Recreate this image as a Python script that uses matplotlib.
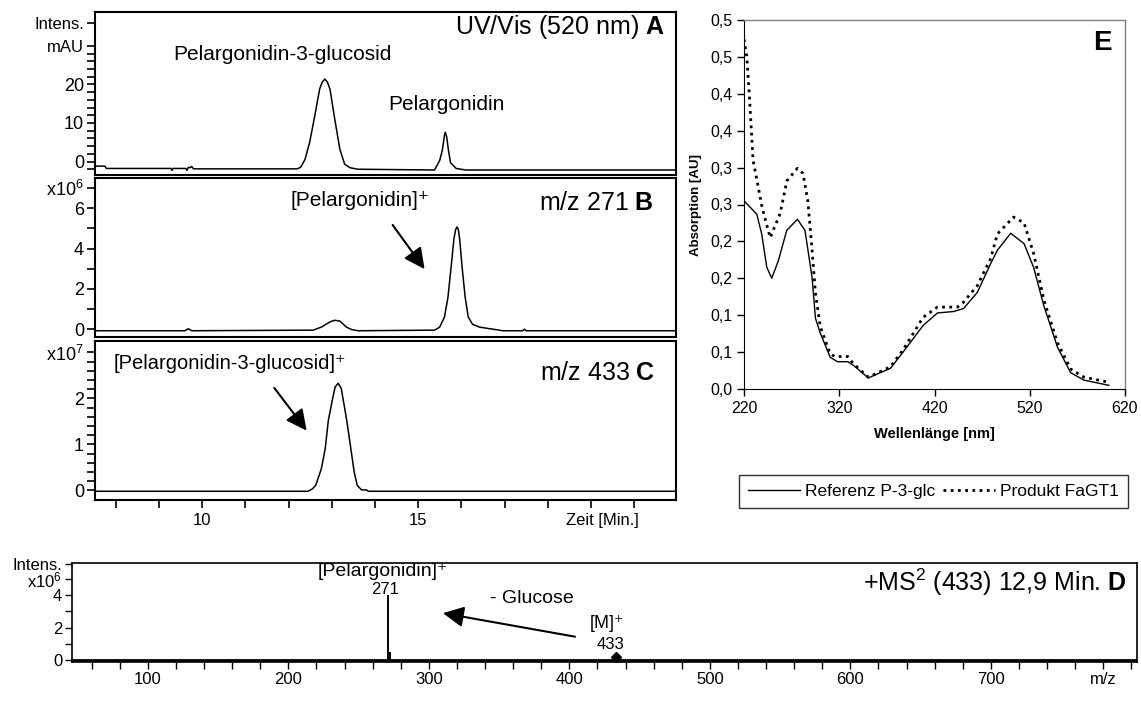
import numpy as np
import matplotlib
matplotlib.use('Agg')
import matplotlib.pyplot as plt
from matplotlib.lines import Line2D

plt.rcParams['font.family'] = ['Liberation Sans', 'DejaVu Sans']
plt.rcParams['mathtext.fontset'] = 'custom'
plt.rcParams['mathtext.rm'] = 'Liberation Sans'
plt.rcParams['mathtext.it'] = 'Liberation Sans:italic'
plt.rcParams['mathtext.bf'] = 'Liberation Sans:bold'
plt.rcParams['mathtext.default'] = 'regular'

# --- A: UV/Vis 520 nm (Zeit in min, mAU)
uv_time = [7.52, 7.75, 7.78, 9.28, 9.30, 9.33, 9.62, 9.65, 9.68, 9.72, 9.76, 9.80,
           12.20, 12.28, 12.38, 12.49, 12.61, 12.72, 12.78, 12.84, 12.90, 12.96, 13.07,
           13.19, 13.30, 13.42, 13.60, 15.38, 15.50, 15.56, 15.61, 15.63, 15.66, 15.70,
           15.75, 15.88, 16.10, 20.97]
uv_mau = [-1.2, -1.2, -1.8, -1.8, -2.3, -1.8, -1.8, -2.3, -1.5, -1.6, -1.3, -1.9,
          -1.9, -1.5, 0.5, 5.0, 12.0, 18.8, 20.6, 21.4, 20.6, 18.8, 11.0,
          3.1, -0.7, -1.6, -2.0, -2.2, 0.3, 2.9, 6.8, 7.6, 6.5, 3.1,
          -0.3, -1.8, -2.2, -2.2]

# --- B: EIC m/z 271 (x10^6)
ms271_time = [7.52, 9.60, 9.68, 9.76, 12.57, 12.76, 12.96, 13.07, 13.19, 13.34, 13.46,
              13.61, 15.38, 15.50, 15.61, 15.69, 15.77, 15.83, 15.87, 15.90, 15.93, 15.96,
              16.02, 16.09, 16.16, 16.26, 16.42, 16.57, 16.88, 16.95, 17.42, 17.46, 17.50,
              20.97]
ms271_int = [-0.08, -0.08, 0.02, -0.08, -0.05, 0.10, 0.36, 0.44, 0.40, 0.10, -0.02,
             -0.08, -0.05, 0.10, 0.60, 1.57, 3.20, 4.50, 4.95, 5.07, 4.95, 4.50,
             3.04, 1.57, 0.60, 0.24, 0.10, 0.05, -0.05, -0.08, -0.08, 0.0, -0.08,
             -0.08]

# --- C: EIC m/z 433 (x10^7)
ms433_time = [7.52, 12.45, 12.55, 12.63, 12.76, 12.85, 12.92, 13.01, 13.08, 13.15, 13.22,
              13.27, 13.35, 13.43, 13.52, 13.59, 13.69, 13.80, 13.85, 20.97]
ms433_int = [-0.02, -0.02, 0.03, 0.11, 0.47, 0.91, 1.51, 1.95, 2.25, 2.33, 2.22,
             1.95, 1.51, 0.99, 0.40, 0.11, 0.01, 0.01, -0.02, -0.02]

# --- D: MS2 of m/z 433 at 12,9 min (x10^6)
ms2_mz = [271, 272]
ms2_int = [4.0, 0.5]
precursor_mz = 433

# --- E: UV/Vis spectra
wl_ref = [220, 229.6, 233.4, 238.6, 243.9, 249.1, 256.1, 264.9, 276.1, 284, 291.5, 295,
          300, 310.5, 318, 329, 335, 350.5, 373.7, 387, 408, 423, 440, 450.5, 465, 479,
          486, 500, 514, 524, 535, 549, 563, 577, 603]
abs_ref = [0.255, 0.242, 0.237, 0.21, 0.165, 0.15, 0.174, 0.215, 0.23, 0.215, 0.151, 0.096,
           0.076, 0.043, 0.037, 0.037, 0.032, 0.015, 0.028, 0.05, 0.086, 0.103, 0.105,
           0.109, 0.131, 0.17, 0.188, 0.211, 0.197, 0.165, 0.112, 0.057, 0.022, 0.012,
           0.005]
wl_prod = [220, 223, 226, 229.5, 233, 239, 247.5, 258, 265, 276, 282, 287, 291.5, 295, 300,
           310, 315, 329, 335, 350.5, 373.7, 387, 408, 423, 444, 450, 465, 479, 486, 503,
           514, 524, 535, 549, 563, 577, 600]
abs_prod = [0.474, 0.45, 0.39, 0.31, 0.287, 0.246, 0.205, 0.238, 0.282, 0.299, 0.292,
            0.255, 0.188, 0.13, 0.085, 0.049, 0.044, 0.044, 0.034, 0.016, 0.03, 0.053,
            0.097, 0.111, 0.111, 0.117, 0.14, 0.177, 0.21, 0.233, 0.225, 0.184, 0.12,
            0.063, 0.027, 0.016, 0.01]

W, H = 1141, 717
TITLE_FS = 18
ARROW = dict(arrowstyle='-|>,head_length=0.9,head_width=0.45', color='black', lw=1.5,
             mutation_scale=14, shrinkA=0, shrinkB=0)


def px_axes(fig, x0, y0, x1, y1):
    # pixel box (left, top, right, bottom) -> axes
    return fig.add_axes([x0 / W, 1 - y1 / H, (x1 - x0) / W, (y1 - y0) / H])


def chrom_axes(ax, ylim, major, labels, minor, fs=13):
    ax.set_xlim(7.52, 20.97)
    ax.set_ylim(*ylim)
    for s in ax.spines.values():
        s.set_linewidth(1.5)
    ax.set_yticks(major)
    ax.set_yticklabels(labels, fontsize=fs)
    ax.set_yticks(minor, minor=True)
    ax.tick_params(axis='y', which='both', direction='out', length=6, width=1.2, pad=2)
    ax.tick_params(axis='x', which='both', bottom=False, labelbottom=False)


fig = plt.figure(figsize=(W / 100, H / 100), dpi=100)

# A
axA = px_axes(fig, 95, 12, 676, 175)
axA.plot(uv_time, uv_mau, color='black', lw=1.1)
chrom_axes(axA, (-3.5, 38.8), [0, 10, 20, 30, 36], ['0', '10', '20', 'mAU', 'Intens.'],
           [v for v in range(-2, 30, 2) if v % 10 != 0])
for lab in axA.get_yticklabels()[3:]:
    lab.set_fontsize(12)
axA.text(11.87, 27.7, 'Pelargonidin-3-glucosid', fontsize=15, ha='center', va='center')
axA.text(15.66, 14.9, 'Pelargonidin', fontsize=15, ha='center', va='center')
axA.text(0.981, 0.905, r'UV/Vis (520 nm) $\mathbf{A}$', transform=axA.transAxes,
         fontsize=TITLE_FS, ha='right', va='center')

# B
axB = px_axes(fig, 95, 178, 676, 337)
axB.plot(ms271_time, ms271_int, color='black', lw=1.1)
chrom_axes(axB, (-0.39, 7.5), [0, 2, 4, 6, 7], ['0', '2', '4', '6', r'x10$^6$'], [1, 3, 5])
axB.text(13.65, 6.4, '[Pelargonidin]⁺', fontsize=15, ha='center', va='center')
axB.annotate('', xy=(15.15, 2.98), xytext=(14.41, 5.17), arrowprops=ARROW)
axB.text(0.961, 0.84, r'm/z 271 $\mathbf{B}$', transform=axB.transAxes,
         fontsize=TITLE_FS, ha='right', va='center')

# C
axC = px_axes(fig, 95, 341, 676, 500)
axC.plot(ms433_time, ms433_int, color='black', lw=1.1)
chrom_axes(axC, (-0.21, 3.25), [0, 1, 2, 3], ['0', '1', '2', r'x10$^7$'],
           [v / 5 for v in range(1, 15) if v % 5 != 0])
axC.tick_params(axis='x', which='both', bottom=True, labelbottom=True, direction='out',
                length=6, width=1.2, labelsize=12)
axC.set_xticks([10, 15])
axC.set_xticks(range(8, 21), minor=True)
axC.annotate('Zeit [Min.]', xy=(19.26, 0), xycoords=('data', 'axes fraction'),
             xytext=(0, -9), textcoords='offset points', ha='center', va='top',
             fontsize=12)
axC.text(7.94, 2.76, '[Pelargonidin-3-glucosid]⁺', fontsize=14.5, ha='left', va='center')
axC.annotate('', xy=(12.42, 1.3), xytext=(11.67, 2.23), arrowprops=ARROW)
axC.text(0.964, 0.80, r'm/z 433 $\mathbf{C}$', transform=axC.transAxes,
         fontsize=TITLE_FS, ha='right', va='center')

# D
axD = px_axes(fig, 72, 563, 1137, 662)
axD.set_xlim(46, 804)
axD.set_ylim(-0.11, 5.95)
axD.axhline(0, color='black', lw=2.0)
axD.vlines(ms2_mz, 0, ms2_int, color='black', lw=1.4)
axD.plot([precursor_mz], [0.19], marker='D', color='black', ms=5)
for s in axD.spines.values():
    s.set_linewidth(1.2)
axD.set_yticks([0, 2, 4, 4.95, 5.9])
axD.set_yticklabels(['0', '2', '4', r'x10$^6$', 'Intens.'], fontsize=12)
for lab in axD.get_yticklabels()[3:]:
    lab.set_fontsize(11)
axD.set_yticks([1, 3], minor=True)
axD.set_xticks(range(100, 701, 100))
axD.set_xticks(range(60, 801, 20), minor=True)
axD.tick_params(which='both', direction='out', length=5, width=1.0, labelsize=12, pad=2)
axD.annotate('m/z', xy=(780, 0), xycoords=('data', 'axes fraction'),
             xytext=(0, -7), textcoords='offset points', ha='center', va='top',
             fontsize=12)
axD.text(267.5, 5.4, '[Pelargonidin]⁺', fontsize=14, ha='center', va='center')
axD.text(269, 4.35, '271', fontsize=12, ha='center', va='center')
axD.text(373, 3.76, '- Glucose', fontsize=14, ha='center', va='center')
axD.annotate('', xy=(310, 2.88), xytext=(404, 1.44), arrowprops=ARROW)
axD.text(427, 2.24, '[M]⁺', fontsize=13, ha='center', va='center')
axD.text(429, 0.99, '433', fontsize=12, ha='center', va='center')
axD.text(0.99, 0.81, r'+MS$^2$ (433) 12,9 Min. $\mathbf{D}$', transform=axD.transAxes,
         fontsize=TITLE_FS, ha='right', va='center')

# E
axE = px_axes(fig, 744, 20, 1125, 389)
axE.plot(wl_ref, abs_ref, color='black', lw=1.0)
axE.plot(wl_prod, abs_prod, color='black', lw=2.0, linestyle=(0, (1.0, 1.6)))
axE.set_xlim(220, 620)
axE.set_ylim(0, 0.5)
axE.set_xticks(range(220, 621, 100))
yt = [i * 0.05 for i in range(11)]
axE.set_yticks(yt)
axE.set_yticklabels([('%.1f' % (np.floor(v * 10 + 0.5 + 1e-9) / 10)).replace('.', ',')
                     for v in yt])
axE.tick_params(direction='out', length=5, width=1.0, labelsize=11.5)
for side in ('top', 'right'):
    axE.spines[side].set_color('#808080')
    axE.spines[side].set_linewidth(1.0)
axE.set_xlabel('Wellenlänge [nm]', fontsize=10.5, fontweight='bold', labelpad=8)
axE.set_ylabel('Absorption [AU]', fontsize=9.5, fontweight='bold', labelpad=6)
axE.text(0.94, 0.938, 'E', transform=axE.transAxes, fontsize=20, fontweight='bold',
         ha='center', va='center')

handles = [Line2D([], [], color='black', lw=1.0),
           Line2D([], [], color='black', lw=2.0, linestyle=(0, (1.0, 1.6)))]
leg = fig.legend(handles, ['Referenz P-3-glc', 'Produkt FaGT1'], loc='center',
                 bbox_to_anchor=(933.5 / W, 1 - 491.5 / H), ncol=2, fontsize=12.5,
                 frameon=True, fancybox=False, edgecolor='black', handlelength=3.0,
                 handletextpad=0.3, columnspacing=0.4, borderpad=0.5)
leg.get_frame().set_linewidth(1.0)

fig.savefig('out.png', dpi=100)
